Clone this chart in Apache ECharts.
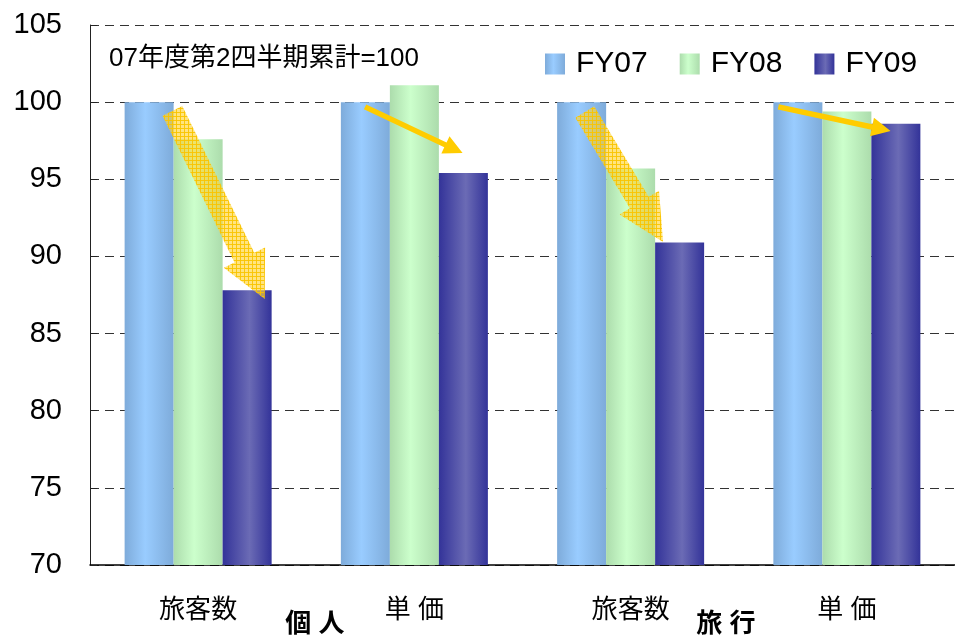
<!DOCTYPE html>
<html>
<head>
<meta charset="utf-8">
<script src="https://cdn.jsdelivr.net/npm/echarts@6/dist/echarts.min.js"></script>
<style>
html, body { margin: 0; padding: 0; background: #fff; }
#main { width: 955px; height: 637px; }
</style>
</head>
<body>
<div id="main"></div>
<script>
var chartDom = document.getElementById('main');
var myChart = echarts.init(chartDom);
var option;

const FONT = "'Liberation Sans', 'Noto Sans CJK JP', sans-serif";

// values (07 2Q cumulative = 100)
const categories = ['旅客数', '単 価', '旅客数', '単 価'];
const seriesNames = ['FY07', 'FY08', 'FY09'];
const fy07 = [100, 100, 100, 100];
const fy08 = [97.6, 101.1, 95.7, 99.4];
const fy09 = [87.8, 95.4, 90.9, 98.6];
const groupLabels = ['個 人', '旅 行'];
const groupLabelAt = [1.04, 2.94];      // in category units
const noteText = '07年度第2四半期累計=100';

// arrows in data space: [x in category units, value]
const fatArrows = [
  [[0.381, 99.43], [0.808, 87.24]],
  [[2.288, 99.36], [2.650, 90.94]]
];
const thinArrows = [
  [[1.272, 99.69], [1.723, 96.70]],
  [[3.183, 99.69], [3.702, 98.13]]
];

function barGrad(edge, light, stop) {
  return new echarts.graphic.LinearGradient(0, 0, 1, 0, [
    { offset: 0, color: edge },
    { offset: stop, color: light },
    { offset: 1, color: edge }
  ]);
}

const barColors = [
  barGrad('#7eabda', '#99ccff', 0.42),
  barGrad('#acdcac', '#ccffcc', 0.42),
  barGrad('#333399', '#6b6bb5', 0.55)
];

const seriesData = [fy07, fy08, fy09];

option = {
  animation: false,
  textStyle: { fontFamily: FONT },
  title: {
    text: noteText,
    left: 104,
    top: 41,
    textStyle: { fontFamily: FONT, fontSize: 26, fontWeight: 'normal', color: '#000' }
  },
  legend: {
    data: seriesNames,
    left: 545,
    top: 49,
    padding: 0,
    itemWidth: 20,
    itemHeight: 21,
    itemGap: 32,
    icon: 'rect',
    textStyle: { fontFamily: FONT, fontSize: 30, color: '#000', padding: [0, 0, 0, 6] }
  },
  grid: {
    left: 90,
    width: 872,
    top: 25,
    bottom: 72,
    containLabel: false
  },
  xAxis: [
    {
      type: 'category',
      data: categories,
      axisLine: { lineStyle: { color: '#000', width: 1.5 } },
      axisTick: { inside: true, length: 8, lineStyle: { color: '#000' } },
      axisLabel: { color: '#000', fontSize: 26, margin: 33, fontFamily: FONT },
      splitLine: { show: false }
    },
    {
      type: 'value',
      min: 0,
      max: 4,
      show: false
    }
  ],
  yAxis: {
    type: 'value',
    min: 70,
    max: 105,
    interval: 5,
    axisLine: { show: true, lineStyle: { color: '#222', width: 1 } },
    axisTick: { show: true, inside: true, length: 7, lineStyle: { color: '#222' } },
    axisLabel: { color: '#000', fontSize: 29, margin: 28, fontFamily: FONT },
    splitLine: { lineStyle: { color: '#333', type: [9, 6], width: 1 } }
  },
  series: seriesNames.map((name, i) => ({
    name: name,
    type: 'bar',
    data: seriesData[i],
    barWidth: 49,
    barGap: '0%',
    itemStyle: { color: barColors[i] }
  }))
};

option && myChart.setOption(option);

// arrows and group labels, placed through the axes
function px(pt) {
  return [
    myChart.convertToPixel({ xAxisIndex: 1 }, pt[0]),
    myChart.convertToPixel({ yAxisIndex: 0 }, pt[1])
  ];
}

function arrowShape(a, b, shaftHalf, headHalf, headLen) {
  const dx = b[0] - a[0], dy = b[1] - a[1];
  const len = Math.sqrt(dx * dx + dy * dy);
  const ux = dx / len, uy = dy / len;
  const nx = -uy, ny = ux;
  const bx = b[0] - ux * headLen, by = b[1] - uy * headLen;
  return [
    [a[0] + nx * shaftHalf, a[1] + ny * shaftHalf],
    [bx + nx * shaftHalf, by + ny * shaftHalf],
    [bx + nx * headHalf, by + ny * headHalf],
    [b[0], b[1]],
    [bx - nx * headHalf, by - ny * headHalf],
    [bx - nx * shaftHalf, by - ny * shaftHalf],
    [a[0] - nx * shaftHalf, a[1] - ny * shaftHalf]
  ];
}

function hatchPattern() {
  const c = document.createElement('canvas');
  c.width = 4;
  c.height = 4;
  const g = c.getContext('2d');
  g.fillStyle = 'rgba(255, 212, 50, 0.62)';
  g.fillRect(0, 0, 4, 4);
  g.fillStyle = 'rgba(250, 196, 0, 0.9)';
  g.fillRect(0, 0, 4, 1);
  g.fillRect(0, 0, 1, 4);
  return c;
}

const pattern = hatchPattern();
const graphics = [];

fatArrows.forEach(ar => {
  graphics.push({
    type: 'polygon',
    z: 100,
    shape: { points: arrowShape(px(ar[0]), px(ar[1]), 11, 23, 46) },
    style: { fill: { image: pattern, repeat: 'repeat' }, stroke: null }
  });
});

thinArrows.forEach(ar => {
  graphics.push({
    type: 'polygon',
    z: 100,
    shape: { points: arrowShape(px(ar[0]), px(ar[1]), 2.7, 9.5, 19) },
    style: { fill: '#ffcc00', stroke: null }
  });
});

const baseY = myChart.convertToPixel({ yAxisIndex: 0 }, 70);
groupLabels.forEach((t, i) => {
  graphics.push({
    type: 'text',
    z: 100,
    x: myChart.convertToPixel({ xAxisIndex: 1 }, groupLabelAt[i]),
    y: baseY + 60,
    style: {
      text: t,
      fontFamily: FONT,
      fontSize: 26,
      fontWeight: 'bold',
      fill: '#000',
      align: 'center',
      verticalAlign: 'middle'
    }
  });
});

myChart.setOption({ graphic: graphics });
</script>
</body>
</html>
